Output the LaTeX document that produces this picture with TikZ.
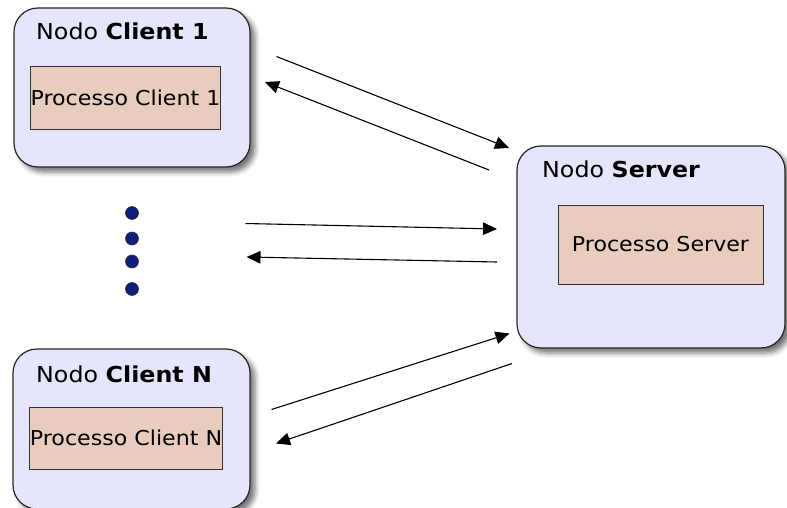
\documentclass[tikz,border=0pt]{standalone}
\usepackage{fontspec}
\setmainfont{DejaVu Sans}[FakeStretch=1.08]
\usetikzlibrary{arrows.meta,shadows.blur}
\definecolor{nodefill}{RGB}{229,229,251}
\definecolor{procfill}{RGB}{232,204,190}
\definecolor{dotfill}{RGB}{14,30,122}
\tikzset{
  hostbox/.style={draw=black!85, line width=1.2pt, fill=nodefill, rounded corners=24pt,
    blur shadow={shadow xshift=5pt, shadow yshift=-5pt, shadow blur radius=5pt, shadow opacity=55},
    inner sep=0pt},
  procbox/.style={draw=black!80, line width=0.9pt, fill=procfill, inner sep=0pt,
    font=\fontsize{20.5}{24}\selectfont},
  hosttitle/.style={anchor=base west, inner sep=0pt, font=\fontsize{22}{26}\selectfont},
  ellipsisdot/.style={circle, draw=black!80, line width=0.6pt, fill=dotfill, minimum size=13pt, inner sep=0pt},
  msg/.style={line width=1.1pt, -{Triangle[length=14pt,width=12.5pt]}},
}
\begin{document}
\begin{tikzpicture}[x=1pt,y=-1pt]
\useasboundingbox (0,0) rectangle (787,508);

% host boxes
\node[hostbox, minimum width=236pt, minimum height=159pt] (client1) at (132,87.5) {};
\node[hostbox, minimum width=268pt, minimum height=202pt] (server) at (651,247) {};
\node[hostbox, minimum width=237pt, minimum height=160pt] (clientN) at (131.5,429) {};

% host titles
\node[hosttitle] (client1title) at (36,40) {Nodo \textbf{Client 1}};
\node[hosttitle] (servertitle) at (542,178) {Nodo \textbf{Server}};
\node[hosttitle] (clientNtitle) at (36,382) {Nodo \textbf{Client N}};

% processes
\node[procbox, minimum width=189pt, minimum height=63pt] (proc1) at (125.5,97.5) {Processo Client 1};
\node[procbox, minimum width=205pt, minimum height=79pt] (procS) at (660.5,244.5) {Processo Server};
\node[procbox, minimum width=190pt, minimum height=62pt] (procN) at (126,438) {Processo Client N};

% vertical ellipsis between the clients
\node[ellipsisdot] (dot1) at (132,213) {};
\node[ellipsisdot] (dot2) at (132,238.5) {};
\node[ellipsisdot] (dot3) at (132,261.5) {};
\node[ellipsisdot] (dot4) at (132,289) {};

% message end points
\coordinate (a1s) at (276.5,56.5);  \coordinate (a1e) at (509,148);
\coordinate (a2s) at (489,170);     \coordinate (a2e) at (265,82);
\coordinate (a3s) at (245.5,223.5); \coordinate (a3e) at (497,229);
\coordinate (a4s) at (497,262);     \coordinate (a4e) at (246.5,257);
\coordinate (a5s) at (271.5,409.5); \coordinate (a5e) at (509.5,333.5);
\coordinate (a6s) at (512,363.5);   \coordinate (a6e) at (276,443.5);

% messages
\draw[msg] (a1s) -- (a1e);
\draw[msg] (a2s) -- (a2e);
\draw[msg] (a3s) -- (a3e);
\draw[msg] (a4s) -- (a4e);
\draw[msg] (a5s) -- (a5e);
\draw[msg] (a6s) -- (a6e);
\end{tikzpicture}
\end{document}
